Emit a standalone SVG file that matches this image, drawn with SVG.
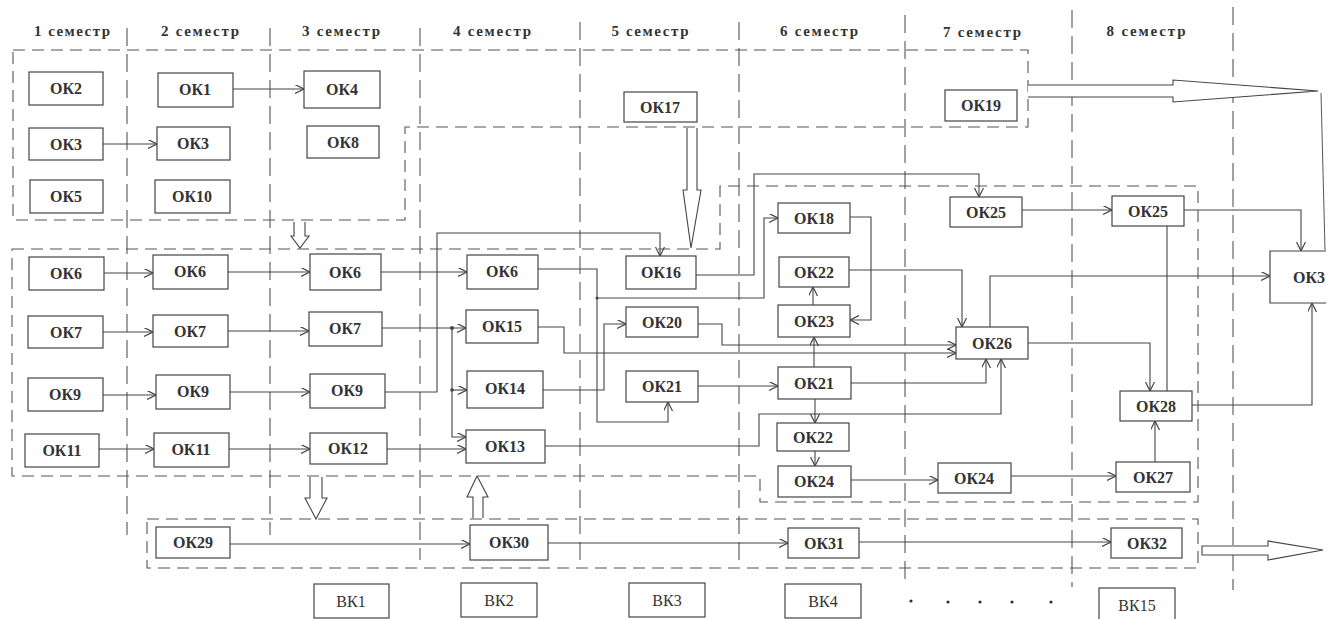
<svg xmlns="http://www.w3.org/2000/svg" width="1338" height="619" viewBox="0 0 1338 619">
<defs>
<marker id="ah" markerUnits="userSpaceOnUse" markerWidth="10" markerHeight="10" refX="9" refY="4.5" orient="auto">
<path d="M0,0 L9,4.5 L0,9" fill="none" stroke="#444" stroke-width="1.2"/>
</marker>
<style>
.bg{fill:#fff}
.sem{stroke:#555;stroke-width:1.1;stroke-dasharray:18 8;fill:none}
.grp{stroke:#555;stroke-width:1.1;stroke-dasharray:12 7;fill:none}
.n rect,.n path{fill:#fff;stroke:#444;stroke-width:1.2}
.n text{font-family:"Liberation Serif","Times New Roman",serif;font-size:16px;font-weight:bold;fill:#333;text-anchor:middle}
.v text{font-weight:normal}
.hd{font-family:"Liberation Serif","Times New Roman",serif;font-size:15px;font-weight:bold;fill:#333;text-anchor:middle}
.c path{fill:none;stroke:#444;stroke-width:1.1}
.c .a{marker-end:url(#ah)}
.ha{fill:#fff;stroke:#444;stroke-width:1.1}
</style>
</defs>
<rect class="bg" x="0" y="0" width="1338" height="619"/>

<g id="semesters">
<path class="sem" d="M127,28 V535 M270,28 V535 M420,28 V560 M580,22 V565 M739,22 V565 M905,15 V582 M1072,10 V587 M1233,7 V590"/>
<text class="hd" x="72" y="36" textLength="76" lengthAdjust="spacing">1 семестр</text>
<text class="hd" x="200" y="36" textLength="78" lengthAdjust="spacing">2 семестр</text>
<text class="hd" x="341" y="36" textLength="78" lengthAdjust="spacing">3 семестр</text>
<text class="hd" x="492" y="36" textLength="78" lengthAdjust="spacing">4 семестр</text>
<text class="hd" x="650" y="36" textLength="77" lengthAdjust="spacing">5 семестр</text>
<text class="hd" x="819" y="36" textLength="78" lengthAdjust="spacing">6 семестр</text>
<text class="hd" x="982" y="37" textLength="78" lengthAdjust="spacing">7 семестр</text>
<text class="hd" x="1146" y="36" textLength="79" lengthAdjust="spacing">8 семестр</text>
</g>

<g id="groups">
<path class="grp" d="M13,50 H1028 V127 H405 V220 H13 Z"/>
<path class="grp" d="M12,249 H720 V186 H1198 V502 H760 V476 H12 Z"/>
<path class="grp" d="M147,519 H1198 V568 H147 Z"/>
</g>

<g id="big-arrows">
<path class="ha" d="M1028,85 H1173 V80 L1318,91 L1173,102 V97 H1028"/>
<path class="ha" d="M687,128 V190 H683 L691,248 L701,190 H697 V128"/>
<path class="ha" d="M294,222 V236 H291 L300,248 L309,236 H305 V222"/>
<path class="ha" d="M310,477 V498 H305 L316,519 L327,498 H322 V477"/>
<path class="ha" d="M473,518 V497 H467 L477,476 L488,497 H483 V518"/>
<path class="ha" d="M1202,546 H1268 V541 L1323,550 L1268,560 V555 H1202 Z"/>
<path fill="none" stroke="#555" stroke-width="1" d="M1321,93 L1325,250"/>
</g>

<g id="connectors" class="c">
<path class="a" d="M233,89 H304"/>
<path class="a" d="M103,144 H157"/>
<path class="a" d="M104,273 H153"/>
<path class="a" d="M228,272 H310"/>
<path class="a" d="M381,272 H467"/>
<path class="a" d="M103,332 H153"/>
<path class="a" d="M228,331 H309"/>
<path class="a" d="M382,328 H466"/>
<path class="a" d="M452,328 V437 H466"/>
<path class="a" d="M452,390 H467"/>
<path class="a" d="M103,395 H156"/>
<path class="a" d="M230,392 H310"/>
<path class="a" d="M385,392 H437 V233 H660 V256"/>
<path class="a" d="M99,449 H154"/>
<path class="a" d="M229,449 H310"/>
<path class="a" d="M387,449 H466"/>
<path class="a" d="M538,269 H597 V422 H668 V402"/>
<path class="a" d="M597,298 H764 V218 H778"/>
<path class="a" d="M696,275 H754 V174 H979 V197"/>
<path class="a" d="M538,327 H564 V353 H956"/>
<path class="a" d="M698,324 H722 V345 H956"/>
<path class="a" d="M543,390 H604 V324 H626"/>
<path class="a" d="M698,386 H778"/>
<path class="a" d="M545,446 H759 V414 H1001 V359"/>
<path class="a" d="M851,383 H986 V359"/>
<path class="a" d="M814,367 V337"/>
<path class="a" d="M813,305 V287"/>
<path class="a" d="M850,217 H871 V320 H850"/>
<path class="a" d="M849,270 H962 V327"/>
<path class="a" d="M815,399 V423"/>
<path class="a" d="M815,451 V466"/>
<path class="a" d="M851,480 H938"/>
<path class="a" d="M1011,476 H1116"/>
<path class="a" d="M1155,462 V421"/>
<path class="a" d="M1022,210 H1112"/>
<path class="a" d="M1184,210 H1301 V251"/>
<path d="M1167,226 V391"/>
<path class="a" d="M1028,343 H1150 V391"/>
<path class="a" d="M990,327 V276 H1270"/>
<path class="a" d="M1192,405 H1312 V303"/>
<path class="a" d="M230,544 H470"/>
<path class="a" d="M548,543 H788"/>
<path class="a" d="M859,542 H1111"/>
<circle cx="452" cy="328" r="2" fill="#444"/>
<circle cx="452" cy="390" r="1.8" fill="#444"/>
<circle cx="597" cy="298" r="1.5" fill="#444"/>
</g>

<g id="ok2" class="n"><rect x="29" y="72" width="74" height="33"/><text x="66" y="94">ОК2</text></g>
<g id="ok1" class="n"><rect x="158" y="73" width="75" height="34"/><text x="195" y="95">ОК1</text></g>
<g id="ok4" class="n"><rect x="304" y="71" width="76" height="37"/><text x="342" y="95">ОК4</text></g>
<g id="ok3-1" class="n"><rect x="29" y="128" width="74" height="32"/><text x="66" y="150">ОК3</text></g>
<g id="ok3-2" class="n"><rect x="157" y="127" width="73" height="33"/><text x="193" y="149">ОК3</text></g>
<g id="ok8" class="n"><rect x="307" y="126" width="72" height="32"/><text x="343" y="148">ОК8</text></g>
<g id="ok5" class="n"><rect x="30" y="180" width="73" height="33"/><text x="66" y="202">ОК5</text></g>
<g id="ok10" class="n"><rect x="155" y="180" width="75" height="33"/><text x="192" y="202">ОК10</text></g>
<g id="ok17" class="n"><rect x="624" y="92" width="73" height="30"/><text x="660" y="113">ОК17</text></g>
<g id="ok19" class="n"><rect x="945" y="90" width="72" height="31"/><text x="981" y="111">ОК19</text></g>

<g id="ok6-1" class="n"><rect x="29" y="257" width="75" height="33"/><text x="66" y="279">ОК6</text></g>
<g id="ok6-2" class="n"><rect x="153" y="255" width="75" height="34"/><text x="190" y="277">ОК6</text></g>
<g id="ok6-3" class="n"><rect x="310" y="254" width="71" height="36"/><text x="345" y="278">ОК6</text></g>
<g id="ok7-1" class="n"><rect x="28" y="316" width="75" height="32"/><text x="66" y="338">ОК7</text></g>
<g id="ok7-2" class="n"><rect x="153" y="315" width="75" height="32"/><text x="190" y="337">ОК7</text></g>
<g id="ok7-3" class="n"><rect x="309" y="312" width="73" height="34"/><text x="345" y="334">ОК7</text></g>
<g id="ok9-1" class="n"><rect x="28" y="378" width="75" height="33"/><text x="65" y="400">ОК9</text></g>
<g id="ok9-2" class="n"><rect x="156" y="375" width="74" height="34"/><text x="193" y="397">ОК9</text></g>
<g id="ok9-3" class="n"><rect x="310" y="374" width="75" height="34"/><text x="347" y="396">ОК9</text></g>
<g id="ok11-1" class="n"><rect x="25" y="434" width="74" height="33"/><text x="62" y="456">ОК11</text></g>
<g id="ok11-2" class="n"><rect x="154" y="433" width="75" height="34"/><text x="191" y="455">ОК11</text></g>
<g id="ok12" class="n"><rect x="310" y="433" width="77" height="31"/><text x="348" y="454">ОК12</text></g>
<g id="ok6-4" class="n"><rect x="467" y="255" width="71" height="34"/><text x="502" y="277">ОК6</text></g>
<g id="ok15" class="n"><rect x="466" y="310" width="72" height="33"/><text x="502" y="332">ОК15</text></g>
<g id="ok14" class="n"><rect x="467" y="371" width="76" height="37"/><text x="505" y="394">ОК14</text></g>
<g id="ok13" class="n"><rect x="466" y="430" width="79" height="33"/><text x="505" y="452">ОК13</text></g>
<g id="ok16" class="n"><rect x="626" y="256" width="70" height="33"/><text x="661" y="278">ОК16</text></g>
<g id="ok20" class="n"><rect x="626" y="307" width="72" height="30"/><text x="662" y="328">ОК20</text></g>
<g id="ok21-1" class="n"><rect x="626" y="371" width="72" height="31"/><text x="662" y="392">ОК21</text></g>
<g id="ok18" class="n"><rect x="778" y="203" width="72" height="30"/><text x="814" y="224">ОК18</text></g>
<g id="ok22-1" class="n"><rect x="779" y="257" width="70" height="30"/><text x="814" y="278">ОК22</text></g>
<g id="ok23" class="n"><rect x="778" y="305" width="72" height="32"/><text x="814" y="327">ОК23</text></g>
<g id="ok21-2" class="n"><rect x="778" y="367" width="73" height="32"/><text x="814" y="389">ОК21</text></g>
<g id="ok22-2" class="n"><rect x="777" y="423" width="72" height="28"/><text x="813" y="443">ОК22</text></g>
<g id="ok24-1" class="n"><rect x="778" y="466" width="73" height="31"/><text x="814" y="487">ОК24</text></g>
<g id="ok25-1" class="n"><rect x="950" y="197" width="72" height="30"/><text x="986" y="218">ОК25</text></g>
<g id="ok25-2" class="n"><rect x="1112" y="196" width="72" height="30"/><text x="1148" y="217">ОК25</text></g>
<g id="ok26" class="n"><rect x="956" y="327" width="72" height="32"/><text x="992" y="349">ОК26</text></g>
<g id="ok28" class="n"><rect x="1120" y="391" width="72" height="30"/><text x="1156" y="412">ОК28</text></g>
<g id="ok24-2" class="n"><rect x="938" y="463" width="73" height="30"/><text x="974" y="484">ОК24</text></g>
<g id="ok27" class="n"><rect x="1116" y="462" width="74" height="30"/><text x="1153" y="483">ОК27</text></g>
<g id="ok3-r" class="n"><path d="M1326,251 H1270 V303 H1326"/><text x="1309" y="283">ОК3</text></g>

<g id="ok29" class="n"><rect x="156" y="527" width="74" height="31"/><text x="193" y="548">ОК29</text></g>
<g id="ok30" class="n"><rect x="470" y="525" width="78" height="35"/><text x="509" y="548">ОК30</text></g>
<g id="ok31" class="n"><rect x="788" y="528" width="71" height="30"/><text x="824" y="549">ОК31</text></g>
<g id="ok32" class="n"><rect x="1111" y="528" width="71" height="30"/><text x="1147" y="549">ОК32</text></g>

<g id="vk1" class="n v"><rect x="314" y="584" width="75" height="34"/><text x="351" y="607">ВК1</text></g>
<g id="vk2" class="n v"><rect x="461" y="583" width="76" height="34"/><text x="499" y="606">ВК2</text></g>
<g id="vk3" class="n v"><rect x="629" y="583" width="76" height="34"/><text x="667" y="606">ВК3</text></g>
<g id="vk4" class="n v"><rect x="785" y="584" width="76" height="34"/><text x="823" y="607">ВК4</text></g>
<g id="vk15" class="n v"><rect x="1099" y="588" width="76" height="34"/><text x="1137" y="611">ВК15</text></g>
<g id="dots" fill="#333">
<circle cx="911" cy="601" r="1.6"/><circle cx="948" cy="602" r="1.6"/><circle cx="980" cy="602" r="1.6"/><circle cx="1012" cy="602" r="1.6"/><circle cx="1051" cy="602" r="1.6"/>
</g>
</svg>
